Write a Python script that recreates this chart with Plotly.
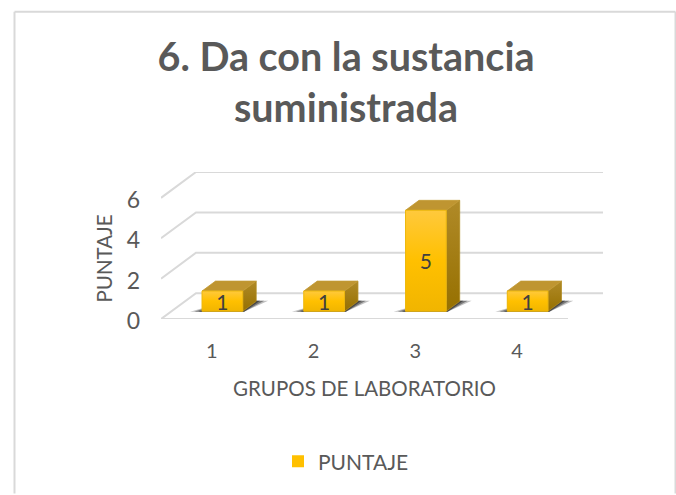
import plotly.graph_objects as go

categories = [1, 2, 3, 4]
puntaje = [1, 1, 5, 1]
y_ticks = [0, 2, 4, 6]
series_name = "PUNTAJE"
title_text = "6. Da con la sustancia<br>suministrada"
x_title = "GRUPOS DE LABORATORIO"

W, H = 676, 495
L, R, T, B = 161, 568, 197.7, 319.5      # front plane of the plot, px
PX_X = (R - L) / 4
PX_Y = (B - T) / 6
DX = 35 / PX_X        # depth of the floor in x-axis units
DY = 26 / PX_Y        # depth of the floor in y-axis units
R2 = R + 35           # right edge of the back wall, px
T2 = T - 26           # top edge of the back wall, px
BAR_W = 0.4
D0, D1 = 0.3, 0.685   # near and far depth of each block
LABEL_DROP = 0.16     # value-label offset below the bar centre, y-axis units
FONT = "Lato"
GREY = "#595959"
GRID = "#d9d9d9"

def proj(x, v, d):
    return x + d * DX, v + d * DY

def poly(points):
    xs, ys = zip(*points)
    return list(xs) + [xs[0]], list(ys) + [ys[0]]

fig = go.Figure()

# Real bars (front faces) on the front-plane axes; these carry the legend entry
fig.add_trace(go.Bar(
    x=[c + D0 * DX for c in categories], y=puntaje,
    base=[D0 * DY] * len(puntaje), width=BAR_W,
    name=series_name, marker=dict(color="#FFC000", line=dict(width=0)),
    showlegend=True, hoverinfo="skip", cliponaxis=False))

def scat(**kw):
    fig.add_trace(go.Scatter(xaxis="x2", yaxis="y2", showlegend=False, hoverinfo="skip",
                             cliponaxis=False, **kw))

# Walls: gridlines
for v in y_ticks:
    p = [proj(0.5, v, 0), proj(0.5, v, 1), proj(4.5, v, 1)]
    scat(x=[q[0] for q in p], y=[q[1] for q in p], mode="lines",
         line=dict(color=GRID, width=2))
scat(x=[0.5, 4.5], y=[0, 0], mode="lines", line=dict(color=GRID, width=2))

for c, v in zip(categories, puntaje):
    x0, x1 = c - BAR_W / 2, c + BAR_W / 2
    # shadow on the floor
    for grow, alpha in ((0.11, 0.3), (0.07, 0.5), (0.03, 0.7)):
        pts = [proj(x0 - grow, 0, D0 - 0.02), proj(x1 + 0.02, 0, D0 - 0.02),
               proj(x1 + grow, 0, D1 + 0.02), proj(x0 + 0.12, 0, D1 + 0.02)]
        xs, ys = poly(pts)
        scat(x=xs, y=ys, mode="lines", fill="toself", line=dict(width=0),
             fillcolor=f"rgba(50,50,50,{alpha})")
    # side face
    xs, ys = poly([proj(x1, 0, D0), proj(x1, 0, D1), proj(x1, v, D1), proj(x1, v, D0)])
    scat(x=xs, y=ys, mode="lines", fill="toself", line=dict(width=0.8, color="#b08a20"),
         fillgradient=dict(type="vertical", colorscale=[[0, "#967000"], [1, "#B08A28"]]))
    # top face
    xs, ys = poly([proj(x0, v, D0), proj(x1, v, D0), proj(x1, v, D1), proj(x0, v, D1)])
    scat(x=xs, y=ys, mode="lines", fill="toself", line=dict(width=0.8, color="#c39a35"),
         fillcolor="#BF9531")
    # front face gradient
    xs, ys = poly([proj(x0, 0, D0), proj(x1, 0, D0), proj(x1, v, D0), proj(x0, v, D0)])
    scat(x=xs, y=ys, mode="lines", fill="toself", line=dict(width=1, color="#EDB80F"),
         fillgradient=dict(type="vertical",
                           colorscale=[[0, "#F1B500"], [0.5, "#FFC000"], [1, "#FFC93C"]]))
    # value label
    lx, ly = proj(c, v / 2 - LABEL_DROP, D0)
    scat(x=[lx], y=[ly], mode="text", text=[str(v)], textposition="middle center",
         textfont=dict(family=FONT, size=21, color="#404040"))

def px_x(p): return (p - L) / (R2 - L)
def px_y(p): return (B - p) / (B - T2)

frame = [(14.5, H, 14.5, 10.5), (14.5, 10.5, 675.5, 10.5), (675.5, 10.5, 675.5, H)]
shapes = [dict(type="line", xref="paper", yref="paper",
               x0=px_x(a), y0=px_y(b), x1=px_x(c), y1=px_y(d),
               line=dict(color=GRID, width=2)) for a, b, c, d in frame]

fig.update_layout(
    width=W, height=H, autosize=False, barmode="overlay",
    margin=dict(l=L, r=W - R2, t=T2, b=H - B, autoexpand=False),
    paper_bgcolor="white", plot_bgcolor="rgba(0,0,0,0)",
    font=dict(family=FONT, color=GREY),
    shapes=shapes,
    title=dict(text=title_text, x=346 / W, xanchor="center", y=1 - 71 / H, yanchor="middle",
               font=dict(family=FONT, size=39.5, color=GREY, weight="bold")),
    xaxis=dict(domain=[0, px_x(R)], range=[0.5, 4.5], tickvals=categories,
               ticktext=[str(c) for c in categories],
               showgrid=False, zeroline=False, showline=False, ticks="",
               ticklabelstandoff=18, tickfont=dict(family=FONT, size=20, color=GREY),
               title=dict(text=x_title, standoff=20, font=dict(family=FONT, size=20.5, color=GREY))),
    yaxis=dict(domain=[0, px_y(T)], range=[0, 6], tickvals=y_ticks, showgrid=False,
               zeroline=False, showline=False, ticklabelshift=2,
               ticks="", ticklabelstandoff=20, tickfont=dict(family=FONT, size=23, color=GREY),
               title=dict(text=series_name, standoff=8, font=dict(family=FONT, size=20.5, color=GREY))),
    xaxis2=dict(domain=[0, 1], range=[0.5, 4.5 + DX], anchor="y2", visible=False),
    yaxis2=dict(domain=[0, 1], range=[0, 6 + DY], anchor="x2", visible=False),
    legend=dict(orientation="h", x=px_x(346), xanchor="center", y=px_y(463), yanchor="middle",
                font=dict(family=FONT, size=21, color=GREY), bgcolor="rgba(0,0,0,0)"),
)

fig.write_html("out.html", config={"displayModeBar": False},
               post_script="document.documentElement.style.margin='0';document.body.style.margin='0';document.body.style.overflow='hidden';")
